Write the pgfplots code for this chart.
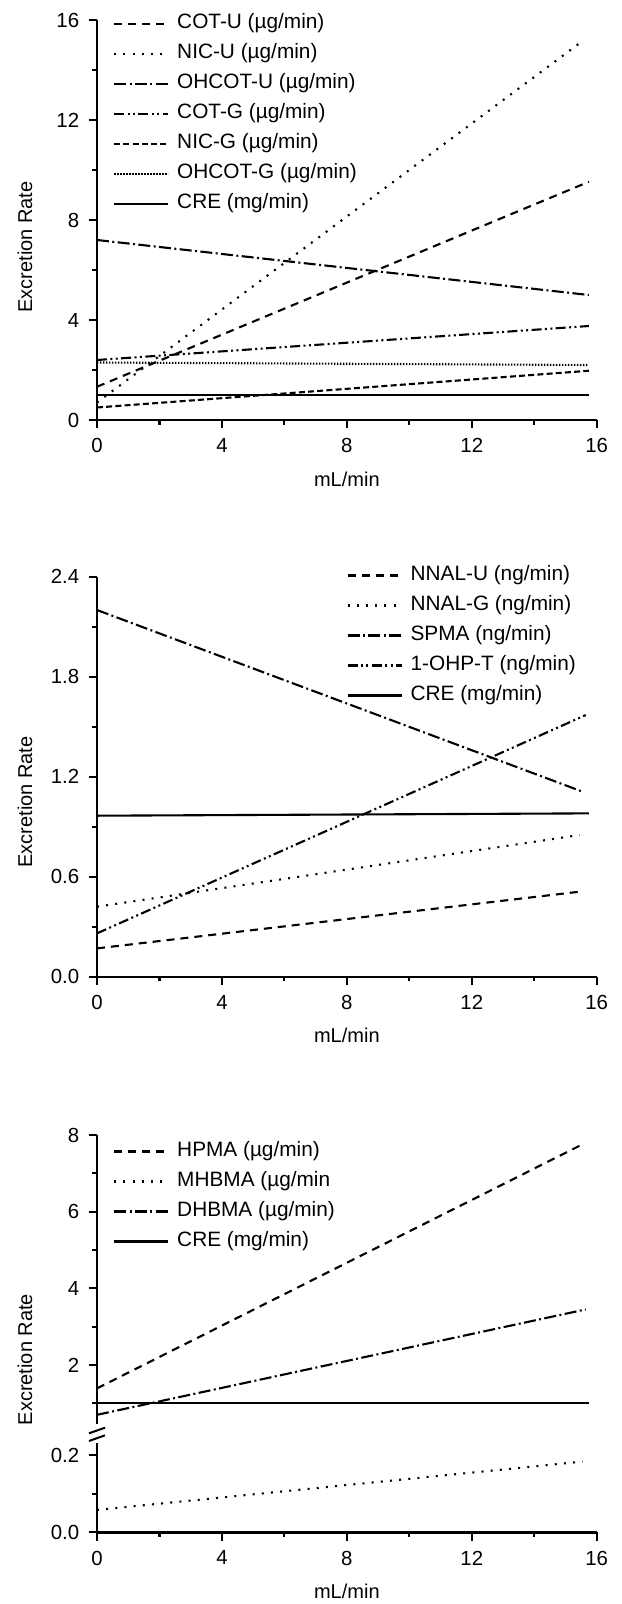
\documentclass[border=0pt]{standalone}
\usepackage{fontspec}
\setmainfont{Liberation Sans}
\usepackage{pgfplots}
\pgfplotsset{compat=1.18}

\tikzset{
  ldash/.style={line width=1.05pt, dash pattern=on 4pt off 3pt},
  ldot/.style={line width=1.05pt, dash pattern=on 1pt off 3.6pt},
  ldashdot/.style={line width=1.05pt, dash pattern=on 6pt off 1.7pt on 1pt off 1.7pt},
  ldashdotdot/.style={line width=1.05pt, dash pattern=on 5pt off 1.7pt on 1pt off 1.7pt on 1pt off 1.7pt},
  lshort/.style={line width=1.05pt, dash pattern=on 3pt off 1.6pt},
  ldense/.style={line width=1.05pt, dash pattern=on 0.7pt off 0.8pt},
  lsolid/.style={line width=1.05pt},
}

\pgfplotsset{
  exc/.style={
    scale only axis, width=249.85pt,
    xmin=0, xmax=16,
    axis lines*=left,
    tick align=outside,
    major tick length=4.2pt, minor tick length=2.3pt,
    every tick/.style={black, line width=1.1pt},
    axis line style={line width=1.2pt},
    xtick={0,4,8,12,16}, minor xtick={2,6,10,14},
    tick label style={font=\fontsize{10.2}{12}\selectfont},
    xticklabel style={yshift=-1.5pt},
    yticklabel style={xshift=-1.2pt},
    label style={font=\fontsize{10.4}{12}\selectfont},
    /pgf/number format/assume math mode=true,
    every axis x label/.style={at={(axis description cs:0.5,0)}, yshift=-29.5pt, anchor=center},
    legend cell align=left,
    legend image code/.code={\draw[##1] (0pt,0pt) -- (27pt,0pt);},
    legend style={draw=none, fill=none, inner sep=0pt, row sep=5pt,
      font=\fontsize{10.4}{12}\selectfont,
      nodes={inner sep=0pt, text height=7.5pt, text depth=2.5pt},
      /tikz/every odd column/.append style={column sep=4pt}},
    clip=false,
  },
}

\begin{document}
\begin{tikzpicture}
\path[use as bounding box] (0,0) rectangle (310.5pt,-802pt);

% panel 1: nicotine metabolites
\begin{axis}[exc,
  at={(48.5pt,-210pt)}, anchor=south west, height=200pt,
  ymin=0, ymax=16, ytick={0,4,8,12,16}, minor ytick={2,6,10,14},
  xlabel={mL/min}, ylabel={Excretion Rate},
  every axis y label/.style={at={(axis description cs:-0.144,0.4325)}, rotate=90, anchor=center},
  legend style={at={(rel axis cs:0.0315,1.016)}, anchor=north west},
]
\addplot[ldash] coordinates {(0,1.33) (15.75,9.53)};
\addlegendentry{COT-U (µg/min)}
\addplot[ldot] coordinates {(0,0.7) (15.45,15.07)};
\addlegendentry{NIC-U (µg/min)}
\addplot[ldashdot] coordinates {(0,7.2) (15.75,5.0)};
\addlegendentry{OHCOT-U (µg/min)}
\addplot[ldashdotdot] coordinates {(0,2.4) (15.75,3.76)};
\addlegendentry{COT-G (µg/min)}
\addplot[lshort] coordinates {(0,0.5) (15.75,1.97)};
\addlegendentry{NIC-G (µg/min)}
\addplot[ldense] coordinates {(0,2.3) (15.75,2.2)};
\addlegendentry{OHCOT-G (µg/min)}
\addplot[lsolid] coordinates {(0,1.0) (15.75,1.0)};
\addlegendentry{CRE (mg/min)}
\end{axis}

% panel 2: NNAL, SPMA, 1-OHP
\begin{axis}[exc,
  at={(48.5pt,-488.35pt)}, anchor=south west, height=200pt,
  ymin=0, ymax=2.4, ytick={0,0.6,1.2,1.8,2.4}, minor ytick={0.3,0.9,1.5,2.1},
  yticklabel style={/pgf/number format/.cd, fixed, fixed zerofill, precision=1},
  xlabel={mL/min}, ylabel={Excretion Rate},
  every axis y label/.style={at={(axis description cs:-0.144,0.437)}, rotate=90, anchor=center},
  legend style={at={(rel axis cs:0.4985,1.029)}, anchor=north west},
]
\addplot[ldash] coordinates {(0,0.17) (15.45,0.51)};
\addlegendentry{NNAL-U (ng/min)}
\addplot[ldot] coordinates {(0,0.42) (15.45,0.85)};
\addlegendentry{NNAL-G (ng/min)}
\addplot[ldashdot] coordinates {(0,2.2) (15.55,1.11)};
\addlegendentry{SPMA (ng/min)}
\addplot[ldashdotdot] coordinates {(0,0.26) (15.65,1.57)};
\addlegendentry{1-OHP-T (ng/min)}
\addplot[lsolid] coordinates {(0,0.966) (15.75,0.98)};
\addlegendentry{CRE (mg/min)}
\end{axis}

% panel 3, upper part of the broken axis
\begin{axis}[exc,
  at={(48.5pt,-712pt)}, anchor=south west, height=144.5pt,
  axis x line=none, axis y line*=left,
  ymin=0.46, ymax=8, ytick={2,4,6,8}, minor ytick={1,3,5,7},
  ylabel={Excretion Rate},
  every axis y label/.style={at={(axis description cs:-0.144,0.223)}, rotate=90, anchor=center},
  legend style={at={(rel axis cs:0.0315,0.979)}, anchor=north west},
]
\addplot[ldash] coordinates {(0,1.39) (15.6,7.78)};
\addlegendentry{HPMA (µg/min)}
\addlegendimage{ldot}
\addlegendentry{MHBMA (µg/min}
\addplot[ldashdot] coordinates {(0,0.70) (15.65,3.45)};
\addlegendentry{DHBMA (µg/min)}
\addplot[lsolid] coordinates {(0,1.0) (15.75,1.0)};
\addlegendentry{CRE (mg/min)}
\end{axis}

% panel 3, lower part
\begin{axis}[exc,
  at={(48.5pt,-766.15pt)}, anchor=south west, height=44.65pt,
  ymin=0, ymax=0.231, ytick={0,0.2}, minor ytick={0.1},
  yticklabel style={/pgf/number format/.cd, fixed, fixed zerofill, precision=1},
  xlabel={mL/min},
]
\addplot[ldot] coordinates {(0,0.058) (15.55,0.183)};
\end{axis}

% break marks on the y axis
\draw[line width=1pt] (44.5pt,-716.65pt) -- (52.5pt,-713.85pt);
\draw[line width=1pt] (44.5pt,-720.5pt) -- (52.5pt,-717.65pt);
\end{tikzpicture}
\end{document}
